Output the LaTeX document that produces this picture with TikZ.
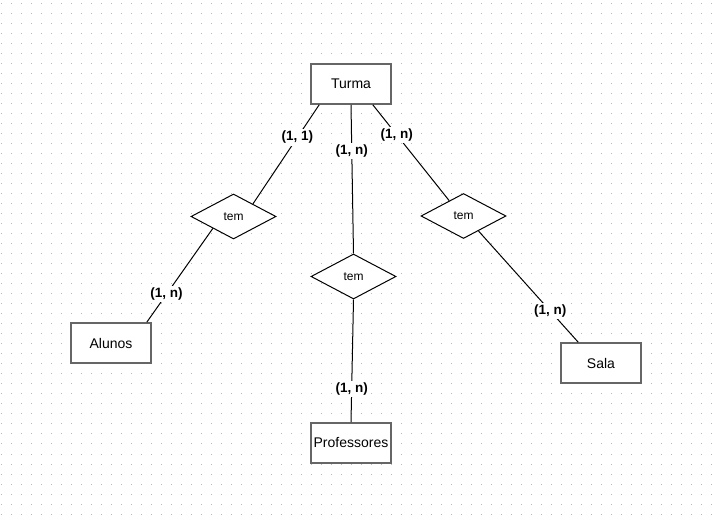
\documentclass[tikz,border=0pt]{standalone}
\usepackage{fontspec}
\setmainfont{Liberation Sans}
\usetikzlibrary{shapes.geometric,calc}
\definecolor{griddot}{RGB}{185,185,185}
\definecolor{boxline}{RGB}{102,102,102}
\begin{document}
\begin{tikzpicture}[x=1pt,y=-1pt,
  entity/.style={draw=boxline, line width=1.6pt, fill=white,
    minimum width=80pt, minimum height=40pt, inner sep=0pt,
    font=\fontsize{14}{16}\selectfont},
  relation/.style={diamond, draw=black, line width=1pt, fill=white,
    minimum width=85pt, minimum height=45pt, inner sep=0pt,
    font=\fontsize{12}{14}\selectfont},
  link/.style={draw=black, line width=1pt},
  card/.style={fill=white, inner sep=2pt,
    font=\bfseries\fontsize{13.5}{16}\selectfont}]
% page and dotted grid
\useasboundingbox[fill=white] (0,0) rectangle (715,518);
\foreach \y in {4,14,...,514}
  \draw[griddot, line width=1pt, dash pattern=on 1pt off 9pt] (1,\y) -- (715,\y);

% entities
\node[entity] (turma)  at (351,84)  {Turma};
\node[entity] (alunos) at (111,343) {Alunos};
\node[entity] (prof)   at (351,443) {Professores};
\node[entity] (sala)   at (601,363) {Sala};

% relationships
\node[relation] (dl) at (233.5,216.5) {tem};
\node[relation] (dm) at (353.5,276.5) {tem};
\node[relation] (dr) at (463.5,216)   {tem};

% connectors with cardinalities
\draw[link] ($(turma.south west)+(9,0)$) -- node[card,pos=0.33]{(1, 1)} (dl.33);
\draw[link] (dl.210) -- node[card,pos=0.70]{(1, n)} ($(alunos.north east)+(-5,0)$);
\draw[link] (turma.south) -- node[card,pos=0.31]{(1, n)} (dm.north);
\draw[link] (dm.south) -- node[card,pos=0.73]{(1, n)} (prof.north);
\draw[link] ($(turma.south east)+(-19,0)$) -- node[card,pos=0.315]{(1, n)} (dr.133);
\draw[link] (dr.-45) -- node[card,pos=0.72]{(1, n)} ($(sala.north west)+(18,0)$);
\end{tikzpicture}
\end{document}
